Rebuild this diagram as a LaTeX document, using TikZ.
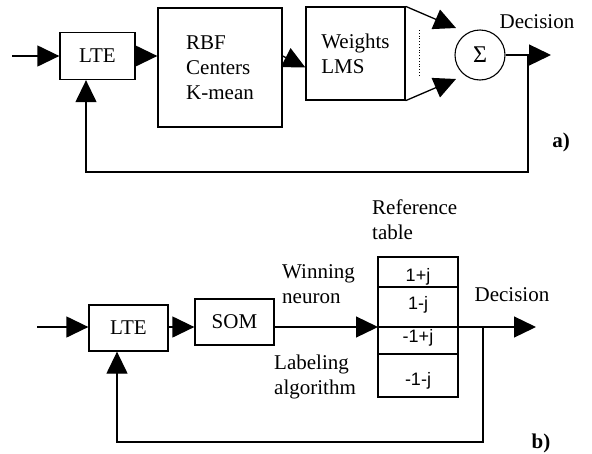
\documentclass[tikz,border=0pt]{standalone}
\usepackage{fontspec}
\setmainfont{Liberation Serif}
\newfontfamily\cellfont{Liberation Sans}
\usetikzlibrary{arrows.meta}
\usetikzlibrary{calc}

\begin{document}
\begin{tikzpicture}[x=1pt,y=-1pt,
  font=\fontsize{21}{25}\selectfont,
  blk/.style={draw,line width=1.3pt,inner sep=2pt},
  ln/.style={line width=1.3pt},
  ar/.style={line width=1.3pt,-{Triangle[length=22pt,width=21pt]}},
  lbl/.style={align=left,inner sep=0pt}]
\useasboundingbox (0,0) rectangle (592,453);

% a) RBF network
\coordinate (ina) at (12,56);
\node[blk,minimum width=75pt,minimum height=47pt] (ltea) at (97.5,56) {LTE};
\node[blk,minimum width=124pt,minimum height=119pt,align=left] (rbf) at (220,67.5) {RBF\\Centers\\K-mean};
\node[blk,minimum width=99pt,minimum height=93pt,align=left] (wts) at (355.5,53.5) {Weights\\LMS};
\node[circle,draw,line width=1.1pt,minimum size=50pt,inner sep=0pt,font=\fontsize{24}{26}\selectfont] (sum) at (480,55) {Σ};
\coordinate (up) at (456,28);
\coordinate (dn) at (456,79);
\coordinate (outa) at (551,55);
\coordinate (tapa) at (528,55);
\coordinate (fba) at (86,172);

\draw[ar] (ina) -- (ltea.west);
\draw[ar] (ltea.east) -- (ltea.east -| rbf.west);
\draw[ar] (rbf.east |- ltea.east) -- (rbf.east -| wts.west) ;
\draw[ar] (wts.north east) -- (up);
\draw[ar] (wts.south east) -- (dn);
\draw[dotted,line width=0.8pt] (419,30) -- (419,75);
\draw[ar] (sum.east) -- (outa);
\draw[ar] (tapa) |- (fba) -- (fba |- ltea.south);
\node[lbl] (deca) at (537,22) {Decision};
\node[lbl,font=\fontsize{21}{25}\selectfont\bfseries] (laba) at (561,142) {a)};

% b) SOM with reference table
\coordinate (inb) at (37,327);
\node[blk,minimum width=79pt,minimum height=46pt] (lteb) at (128.5,328) {LTE};
\node[blk,minimum width=79pt,minimum height=46pt] (som) at (234.5,322) {SOM};
\coordinate (tabin) at (378,327);
\coordinate (tabout) at (458,327);
\coordinate (outb) at (536,327);
\coordinate (tapb) at (483,327);
\coordinate (fbb) at (117,442);

\foreach \ytop/\ybot/\txt/\ytxt/\nm in {257/287/1+j/277/ra,287/327/1-j/305/rb,327/354/-1+j/338/rc,354/397/-1-j/381/rd}{
  \draw[line width=1.2pt] (378,\ytop) rectangle (458,\ybot);
  \node[font=\cellfont\fontsize{18}{20}\selectfont,inner sep=0pt] (\nm) at (418,\ytxt) {\txt};
}

\draw[ar] (inb) -- (inb -| lteb.west);
\draw[ar] (lteb.east |- inb) -- (som.west |- inb);
\draw[ar] (som.east |- inb) -- (tabin);
\draw[ar] (tabout) -- (outb);
\draw[ar] (tapb) |- (fbb) -- (fbb |- lteb.south);

\node[lbl,anchor=west] (win) at (282,284) {Winning\\neuron};
\node[lbl,anchor=west] (labl) at (274,377) {Labeling\\algorithm};
\node[lbl,anchor=west] (ref) at (372,220) {Reference\\table};
\node[lbl] (decb) at (512,295) {Decision};
\node[lbl,font=\fontsize{21}{25}\selectfont\bfseries] (labb) at (541,443) {b)};
\end{tikzpicture}
\end{document}
